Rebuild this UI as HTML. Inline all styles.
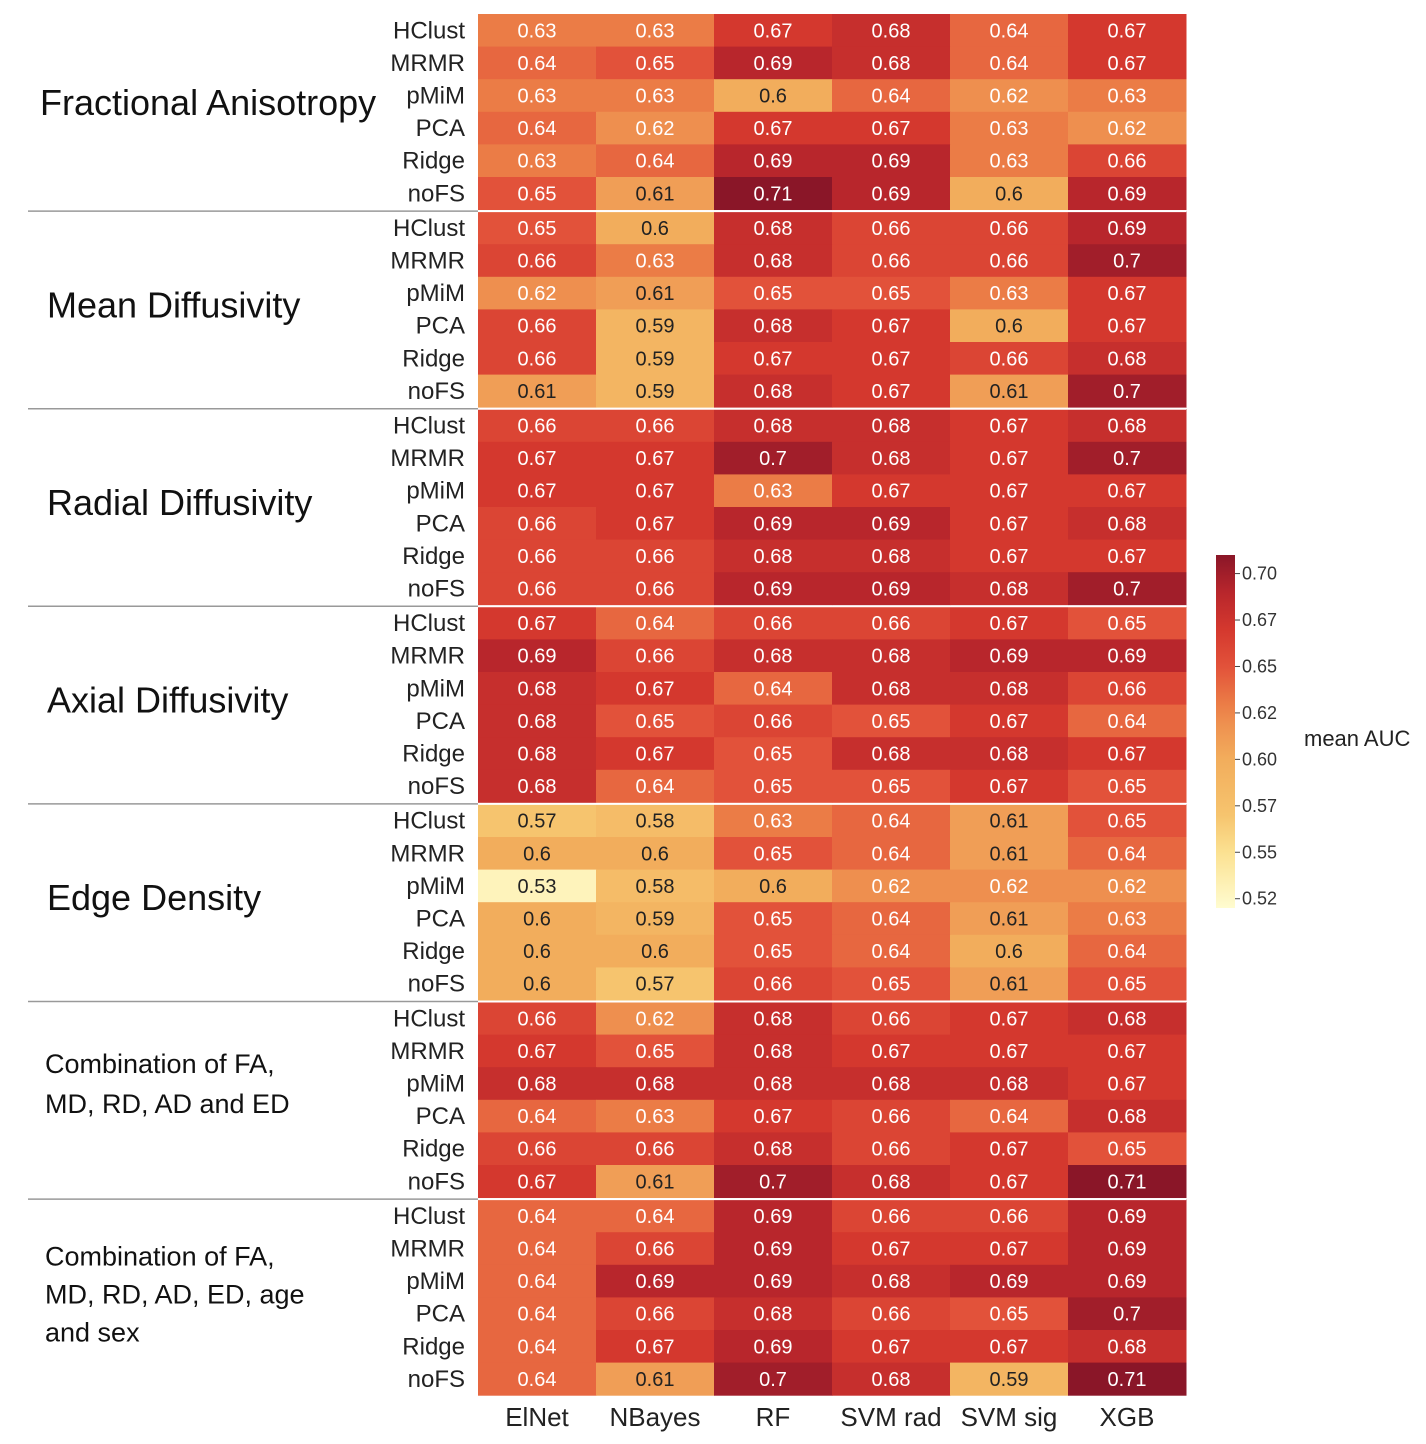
<!DOCTYPE html>
<html><head><meta charset="utf-8"><style>
html,body{margin:0;padding:0;background:#fff;}
svg{display:block;font-family:"Liberation Sans",Arial,sans-serif;}
</style></head><body>
<svg id="chart" width="1426" height="1444"></svg>
<script>
const groups = ["Fractional Anisotropy","Mean Diffusivity","Radial Diffusivity","Axial Diffusivity","Edge Density","Combination of FA,|MD, RD, AD and ED","Combination of FA,|MD, RD, AD, ED, age|and sex"];
const methods = ["HClust","MRMR","pMiM","PCA","Ridge","noFS"];
const models = ["ElNet","NBayes","RF","SVM rad","SVM sig","XGB"];
const cbTicks = [0.70,0.675,0.65,0.625,0.60,0.575,0.55,0.525];
const cbTickLabels = ["0.70","0.67","0.65","0.62","0.60","0.57","0.55","0.52"];
const values = [
[.63,.63,.67,.68,.64,.67],[.64,.65,.69,.68,.64,.67],[.63,.63,.6,.64,.62,.63],[.64,.62,.67,.67,.63,.62],[.63,.64,.69,.69,.63,.66],[.65,.61,.71,.69,.6,.69],
[.65,.6,.68,.66,.66,.69],[.66,.63,.68,.66,.66,.7],[.62,.61,.65,.65,.63,.67],[.66,.59,.68,.67,.6,.67],[.66,.59,.67,.67,.66,.68],[.61,.59,.68,.67,.61,.7],
[.66,.66,.68,.68,.67,.68],[.67,.67,.7,.68,.67,.7],[.67,.67,.63,.67,.67,.67],[.66,.67,.69,.69,.67,.68],[.66,.66,.68,.68,.67,.67],[.66,.66,.69,.69,.68,.7],
[.67,.64,.66,.66,.67,.65],[.69,.66,.68,.68,.69,.69],[.68,.67,.64,.68,.68,.66],[.68,.65,.66,.65,.67,.64],[.68,.67,.65,.68,.68,.67],[.68,.64,.65,.65,.67,.65],
[.57,.58,.63,.64,.61,.65],[.6,.6,.65,.64,.61,.64],[.53,.58,.6,.62,.62,.62],[.6,.59,.65,.64,.61,.63],[.6,.6,.65,.64,.6,.64],[.6,.57,.66,.65,.61,.65],
[.66,.62,.68,.66,.67,.68],[.67,.65,.68,.67,.67,.67],[.68,.68,.68,.68,.68,.67],[.64,.63,.67,.66,.64,.68],[.66,.66,.68,.66,.67,.65],[.67,.61,.7,.68,.67,.71],
[.64,.64,.69,.66,.66,.69],[.64,.66,.69,.67,.67,.69],[.64,.69,.69,.68,.69,.69],[.64,.66,.68,.66,.65,.7],[.64,.67,.69,.67,.67,.68],[.64,.61,.7,.68,.59,.71]
];
const stops=[[0.52,[255,252,208]],[0.55,[251,225,145]],[0.57,[246,196,110]],[0.60,[242,173,92]],[0.62,[238,143,79]],[0.63,[235,124,70]],[0.65,[226,82,58]],[0.67,[212,56,46]],[0.69,[184,38,44]],[0.71,[138,22,40]]];
function color(v){
  if(v<=stops[0][0])return "rgb("+stops[0][1]+")";
  for(let i=1;i<stops.length;i++){if(v<=stops[i][0]){const a=stops[i-1],b=stops[i],t=(v-a[0])/(b[0]-a[0]);return "rgb("+a[1].map((c,k)=>Math.round(c+(b[1][k]-c)*t)).join(",")+")";}}
  return "rgb("+stops[stops.length-1][1]+")";
}
const NS="http://www.w3.org/2000/svg",svg=document.getElementById("chart");
function el(t,a,p){const e=document.createElementNS(NS,t);for(const k in a)e.setAttribute(k,a[k]);(p||svg).appendChild(e);return e;}
const X0=478,CW=118,Y0=14,GP=197.6,RH=32.6;
const xS=c=>X0+c*CW, yS=(g,r)=>Y0+g*GP+r*RH;
values.forEach((row,ri)=>{const g=Math.floor(ri/6),r=ri%6;
  row.forEach((v,c)=>{
    const rc=el("rect",{x:xS(c),y:yS(g,r),width:CW+0.5,height:RH+0.5,fill:color(v)});
    
    
    const t=el("text",{x:xS(c)+CW/2,y:yS(g,r)+RH/2+7,"text-anchor":"middle","font-size":"20",fill:v<=0.615?"#222":"#fff"});
    t.textContent=String(v);
    
    
  });
  const lb=el("text",{x:465,y:yS(g,r)+RH/2+8,"text-anchor":"end","font-size":"24",fill:"#222"});
  lb.textContent=methods[r];
  
  
});
groups.forEach((name,g)=>{
  if(g>0){const y=Y0+g*GP-0.5;
    const l1=el("line",{x1:28,x2:478,y1:y,y2:y,stroke:"#999","stroke-width":1.5});
    
    
    const l2=el("line",{x1:478,x2:1186,y1:y,y2:y,stroke:"#fff","stroke-width":2});
    
    
  }
  const lines=name.split("|"),big=lines.length===1;
  const cy=Y0+g*GP+GP/2;
  lines.forEach((ln,i)=>{
    let x,y,fs;
    if(big){fs=36;x=(g==0?40:47);y=cy+12-(g==0?10:5);}
    else if(lines.length===2){fs=27;x=45;y=cy-28+i*40;}
    else{fs=27;x=45;y=cy-33+i*38;}
    const t=el("text",{x:x,y:y,"font-size":fs,fill:"#111"});
    t.textContent=ln;
    
    
  });
});
models.forEach((m,c)=>{
  const t=el("text",{x:xS(c)+CW/2,y:1426,"text-anchor":"middle","font-size":"26",fill:"#222"});
  t.textContent=m;
  
  
});
const CBX=1216,CBW=19,CBT=555,CBB=908,vMin=0.52,vMax=0.71;
const cy=v=>CBB-(v-vMin)/(vMax-vMin)*(CBB-CBT);
const defs=el("defs",{}),grad=el("linearGradient",{id:"cbg",x1:0,y1:1,x2:0,y2:0},defs);
stops.forEach(s=>el("stop",{offset:((s[0]-vMin)/(vMax-vMin)),"stop-color":"rgb("+s[1]+")"},grad));
const cb=el("rect",{x:CBX,y:CBT,width:CBW,height:CBB-CBT,fill:"url(#cbg)"});


cbTicks.forEach((v,i)=>{
  const y=cy(v);
  el("line",{x1:CBX+CBW,x2:CBX+CBW+5,y1:y,y2:y,stroke:"#444","stroke-width":1});
  const t=el("text",{x:CBX+CBW+7,y:y+6,"font-size":"18",fill:"#333"});
  t.textContent=cbTickLabels[i];
  
  
});
const ct=el("text",{x:1304,y:746,"font-size":"22",fill:"#222"});
ct.textContent="mean AUC";


</script>
</body></html>
